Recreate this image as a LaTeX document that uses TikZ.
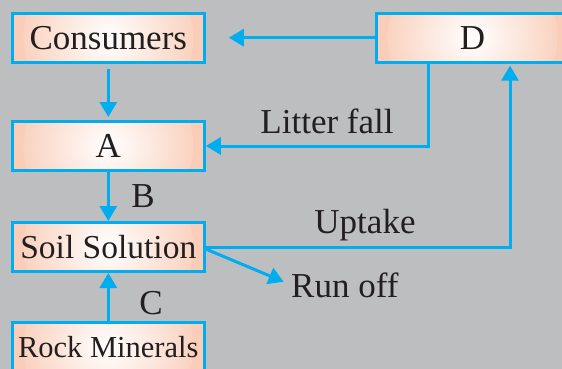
\documentclass[tikz,border=0pt]{standalone}
\usepackage{fontspec}
\setmainfont{Liberation Serif}
\usetikzlibrary{arrows.meta, positioning, calc}
\definecolor{sfondo}{HTML}{BCBEC0}
\definecolor{ciano}{HTML}{00AEEF}
\definecolor{pesca}{HTML}{F9CDB8}
\definecolor{testo}{HTML}{231F20}

\begin{document}
\begin{tikzpicture}[x=1pt,y=-1pt,
        box/.style={draw=ciano, line width=3pt, fill=pesca,
            path picture={\shade[inner color=white, outer color=pesca]
                (path picture bounding box.center) circle (85pt);},
            minimum width=192pt, minimum height=49pt, inner sep=0pt, text=testo,
            font=\fontsize{35}{40}\selectfont},
        flow/.style={draw=ciano, line width=3pt, -{Triangle[length=15pt,width=17pt]}},
        lab/.style={text=testo, font=\fontsize{35}{40}\selectfont, inner sep=0pt, anchor=base}]
        %sfondo
        \useasboundingbox (0,0) rectangle (562,369);
        \fill[sfondo] (0,0) rectangle (562,369);
        %scatole
        \node[box] (Consumers) at (108.3,37.7) {Consumers};
        \node[box] (D) at (472.5,37.7) {D};
        \node[box] (A) at (108.3,146) {A};
        \node[box, font=\fontsize{33.5}{40}\selectfont] (Soil) at (108.3,247) {Soil Solution};
        \node[box, font=\fontsize{30.5}{36}\selectfont] (Rock) at (108.3,347) {Rock Minerals};
        %etichette
        \node[lab] (litter) at (327,133) {Litter fall};
        \node[lab] (labB) at (143,207) {B};
        \node[lab] (uptake) at (365,233) {Uptake};
        \node[lab, anchor=base west] (runoff) at (291,297) {Run off};
        \node[lab] (labC) at (151,314) {C};
        %frecce
        \draw[flow, shorten >=23pt] (D.west) -- (Consumers.east);
        \draw[flow, shorten <=5pt, shorten >=3pt] (Consumers.south) -- (A.north);
        \draw[flow] ([xshift=-44.5pt]D.south) |- (A.east);
        \draw[flow] (A.south) -- (Soil.north);
        \draw[flow, shorten >=2pt] (Soil.east) -| ([xshift=37.5pt]D.south);
        \draw[flow, shorten >=8pt] ([yshift=-2pt]Soil.east) -- (runoff.west);
        \draw[flow] (Rock.north) -- (Soil.south);
\end{tikzpicture}
\end{document}
